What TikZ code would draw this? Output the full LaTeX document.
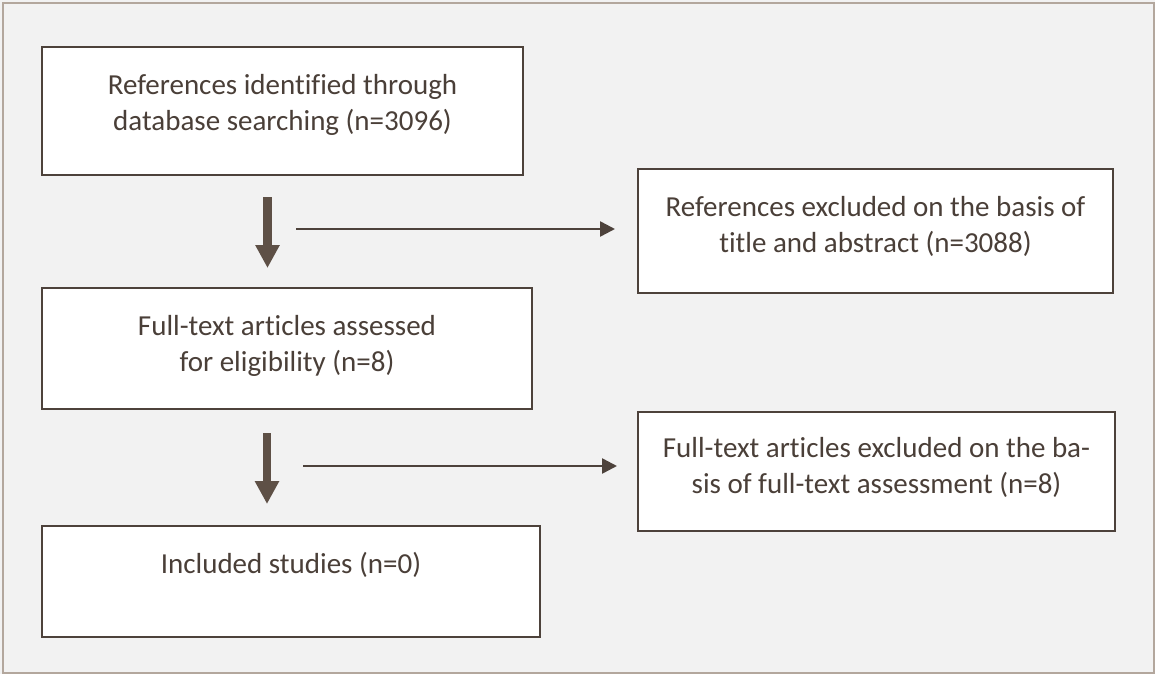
\documentclass[tikz,border=0pt]{standalone}
\usepackage{fontspec}
\setmainfont{Carlito}[Ligatures=NoCommon]
\usetikzlibrary{positioning,arrows.meta}
\definecolor{boxline}{HTML}{4D423B}
\definecolor{txtcol}{HTML}{4A3F38}
\definecolor{arrowcol}{HTML}{5E5046}
\definecolor{framecol}{HTML}{B3A79D}
\definecolor{bgcol}{HTML}{F2F2F2}
\begin{document}
\begin{tikzpicture}[x=1pt,y=-1pt,
    box/.style={draw=boxline,line width=2.5pt,fill=white,inner sep=0pt,outer sep=0pt,anchor=north west},
    txt/.style={text=txtcol,font=\fontsize{29}{35.5}\selectfont,align=center,inner sep=0pt},
    bigarrow/.style={draw=arrowcol,line width=8.5pt,-{Triangle[width=23pt,length=23pt]}},
    thinarrow/.style={draw=boxline,line width=2.5pt,-{Triangle[width=15pt,length=15pt]}}]
    \useasboundingbox (0,0) rectangle (1155,674);
    \fill[bgcol] (0,0) rectangle (1155,674);
    \draw[framecol,line width=2pt] (3,3) rectangle (1154,673);

    \node [box,minimum width=481pt,minimum height=128pt] (1) at (42,47) {};
    \node [box,minimum width=490pt,minimum height=121pt,below=113pt of 1.south west,anchor=north west] (2) {};
    \node [box,minimum width=498pt,minimum height=111pt,below=117pt of 2.south west,anchor=north west] (3) {};
    \node [box,minimum width=475pt,minimum height=124pt] (4) at (638,169) {};
    \node [box,minimum width=477pt,minimum height=119pt,below=119pt of 4.south west,anchor=north west] (5) {};

    % base = last line, so two-line texts sit one line lower
    \node [txt,below=83pt of 1.north,anchor=base] (1t) {References identified through\\database searching (n=3096)};
    \node [txt,below=83pt of 2.north,anchor=base] (2t) {Full-text articles assessed\\for eligibility (n=8)};
    \node [txt,below=47pt of 3.north,anchor=base] (3t) {Included studies (n=0)};
    \node [txt,below=83pt of 4.north,anchor=base] (4t) {References excluded on the basis of\\title and abstract (n=3088)};
    \node [txt,below=81pt of 5.north,anchor=base] (5t) {Full-text articles excluded on the ba-\\sis of full-text assessment (n=8)};

    \coordinate (d1a) at (267.5,197);
    \coordinate (d1b) at (267.5,268);
    \coordinate (d2a) at (267,433);
    \coordinate (d2b) at (267,504);
    \coordinate (r1a) at (296,229);
    \coordinate (r2a) at (303,466);

    \draw[bigarrow] (d1a) -- (d1b);
    \draw[bigarrow] (d2a) -- (d2b);
    \draw[thinarrow,shorten >=23pt] (r1a) -- (r1a -| 4.west);
    \draw[thinarrow,shorten >=21pt] (r2a) -- (r2a -| 5.west);

  \end{tikzpicture}
\end{document}
